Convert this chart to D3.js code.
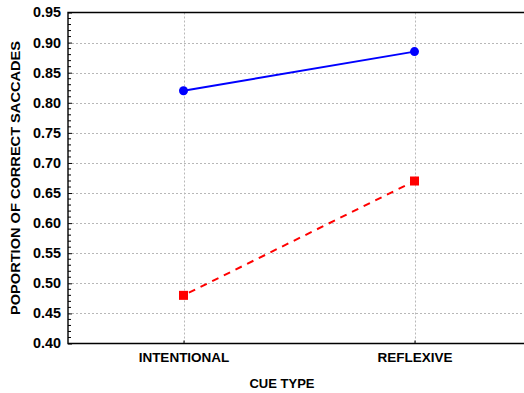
<!DOCTYPE html>
<html>
<head>
<meta charset="utf-8">
<script src="https://cdn.jsdelivr.net/npm/d3@7"></script>
<style>
  html, body { margin: 0; padding: 0; background: #fff; }
  svg { display: block; font-family: "Liberation Sans", Arial, sans-serif; font-weight: bold; }
</style>
</head>
<body>
<svg id="chart" width="524" height="393"></svg>
<script>
// Cue types on the x axis
const categories = ["INTENTIONAL", "REFLEXIVE"];
// Proportion of correct saccades for each group
const seriesBlue = [0.82, 0.885];
const seriesRed = [0.48, 0.67];
// Y axis tick labels
const yTicks = [0.40, 0.45, 0.50, 0.55, 0.60, 0.65, 0.70, 0.75, 0.80, 0.85, 0.90, 0.95];
const xTitle = "CUE TYPE";
const yTitle = "POPORTION OF CORRECT SACCADES";

const svg = d3.select("#chart");
const plotLeft = 68, plotTop = 12.5, plotBottom = 343.5, plotRight = 524;

const x = d3.scalePoint().domain(categories).range([plotLeft, 530]).padding(0.5);
const y = d3.scaleLinear().domain([0.40, 0.95]).range([plotBottom, plotTop]);

// grid lines
const grid = svg.append("g")
  .attr("stroke", "#b8b8b8").attr("stroke-width", 1).attr("stroke-dasharray", "2,2");
grid.selectAll("line.h").data(yTicks.slice(1, -1)).join("line")
  .attr("x1", plotLeft).attr("x2", plotRight - 2)
  .attr("y1", d => Math.round(y(d)) + 0.5).attr("y2", d => Math.round(y(d)) + 0.5);
grid.selectAll("line.v").data(categories).join("line")
  .attr("x1", d => Math.round(x(d)) + 0.5).attr("x2", d => Math.round(x(d)) + 0.5)
  .attr("y1", plotTop).attr("y2", plotBottom);

// Y axis with inward ticks
const yAxis = d3.axisLeft(y).tickValues(yTicks).tickFormat(d3.format(".2f")).tickSizeInner(-4).tickSizeOuter(0).tickPadding(7);
const gy = svg.append("g").attr("transform", `translate(${plotLeft},0)`).call(yAxis);
gy.select(".domain").remove();
gy.selectAll(".tick line").attr("stroke", "#000");
gy.selectAll(".tick text").attr("font-size", 14).attr("font-weight", "bold")
  .attr("font-family", "Liberation Sans, Arial, sans-serif").attr("fill", "#000")
  .attr("x", -7).attr("textLength", 28).attr("lengthAdjust", "spacingAndGlyphs");

// minor ticks every 0.01
const minor = d3.range(0, 56).map(i => 0.40 + i * 0.01).filter(v => Math.round(v * 100) % 5 !== 0);
svg.append("g").selectAll("line").data(minor).join("line")
  .attr("x1", plotLeft).attr("x2", plotLeft + 3)
  .attr("y1", d => y(d)).attr("y2", d => y(d))
  .attr("stroke", "#000").attr("stroke-width", 1);

// X axis
const xAxis = d3.axisBottom(x).tickSizeInner(-3).tickSizeOuter(0).tickPadding(9);
const gx = svg.append("g").attr("transform", `translate(0,${plotBottom})`).call(xAxis);
gx.select(".domain").remove();
gx.selectAll(".tick line").attr("stroke", "#000");
gx.selectAll(".tick text").attr("font-size", 13.5).attr("font-weight", "bold")
  .attr("font-family", "Liberation Sans, Arial, sans-serif").attr("fill", "#000");

// frame: left, top, bottom
svg.append("path")
  .attr("d", `M${plotRight},${plotTop}H${plotLeft}V${plotBottom}H${plotRight}`)
  .attr("fill", "none").attr("stroke", "#000").attr("stroke-width", 1.4);

// series lines
const line = d3.line().x((d, i) => x(categories[i])).y(d => y(d));
svg.append("path").datum(seriesBlue).attr("d", line)
  .attr("fill", "none").attr("stroke", "#0000ff").attr("stroke-width", 2);
svg.append("path").datum(seriesRed).attr("d", line)
  .attr("fill", "none").attr("stroke", "#ff0000").attr("stroke-width", 2)
  .attr("stroke-dasharray", "7,6").attr("stroke-dashoffset", -6);

// markers
svg.append("g").selectAll("circle").data(seriesBlue).join("circle")
  .attr("cx", (d, i) => x(categories[i])).attr("cy", d => y(d)).attr("r", 4.5)
  .attr("fill", "#0000ff");
svg.append("g").selectAll("rect").data(seriesRed).join("rect")
  .attr("x", (d, i) => x(categories[i]) - 4.5).attr("y", d => y(d) - 4.5)
  .attr("width", 9).attr("height", 9).attr("fill", "#ff0000");

// axis titles
svg.append("text").attr("x", 282).attr("y", 388).attr("text-anchor", "middle")
  .attr("font-size", 13).text(xTitle);
svg.append("text").attr("transform", `translate(19.5,${(plotTop + plotBottom) / 2}) rotate(-90)`)
  .attr("text-anchor", "middle").attr("font-size", 13.5)
  .attr("textLength", 274).attr("lengthAdjust", "spacingAndGlyphs").text(yTitle);
</script>
</body>
</html>
